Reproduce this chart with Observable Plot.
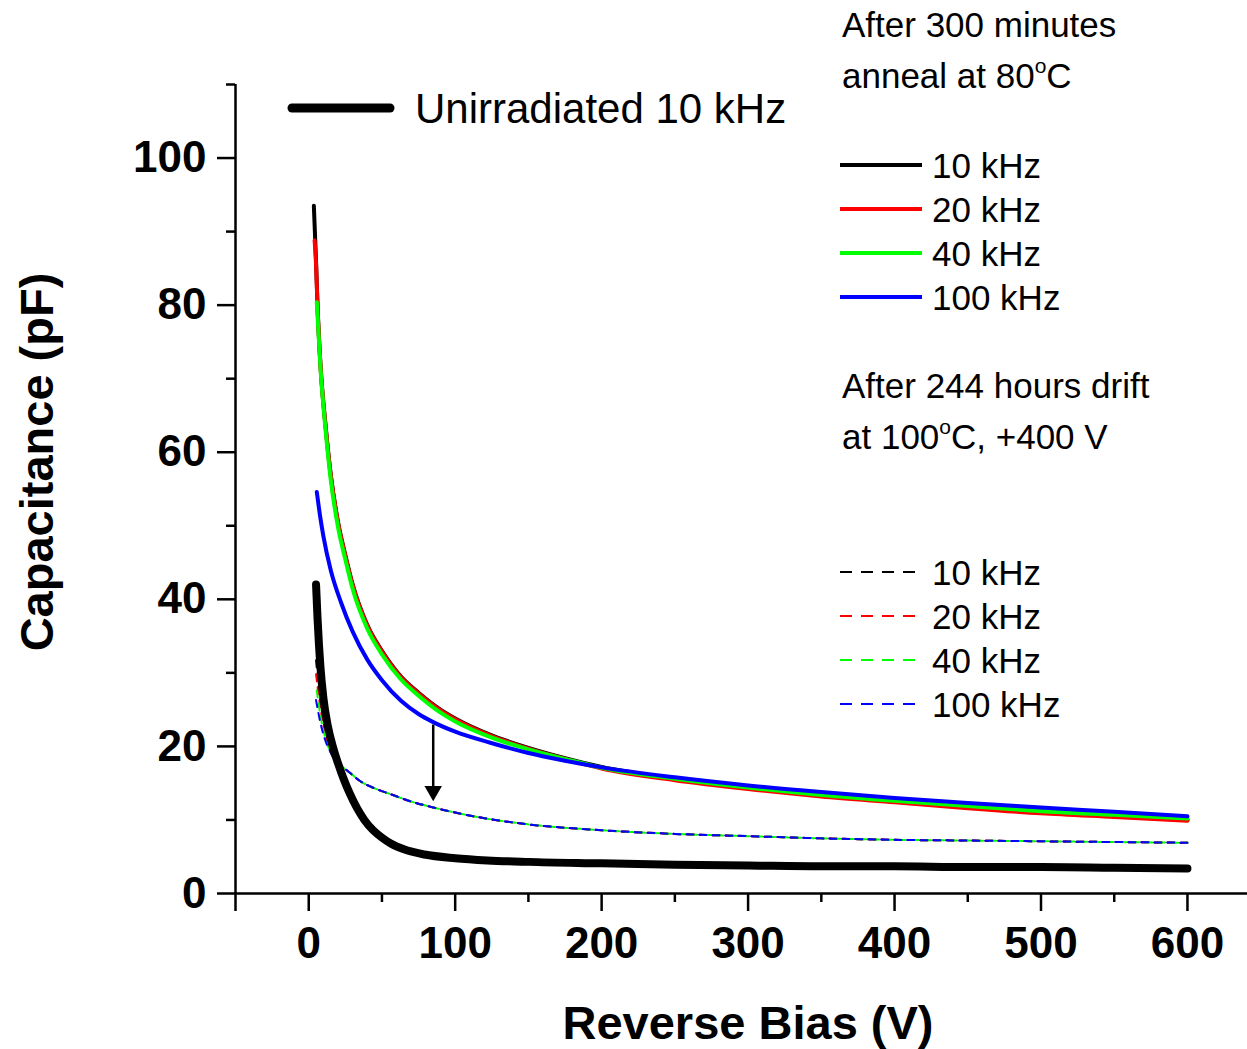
<!DOCTYPE html>
<html><head><meta charset="utf-8">
<script src="https://cdn.jsdelivr.net/npm/d3@7"></script>
<script src="https://cdn.jsdelivr.net/npm/@observablehq/plot@0.6"></script>
<style>body{margin:0;background:#fff}#chart{width:1247px;height:1049px}</style>
</head><body><div id="chart"></div>
<script>
// ---------- data ----------
const freqLabels = ["10 kHz", "20 kHz", "40 kHz", "100 kHz"];
const freqColors = ["#000000", "#ff0000", "#00ff00", "#0000ff"];

// Unirradiated, 10 kHz
const unirrV = [5, 6, 7, 8, 10, 13, 17, 20, 24, 28, 33, 38, 44, 50, 56, 65, 79, 100, 122, 150, 200, 250, 300, 350, 400, 450, 500, 550, 600];
const unirrC = [42, 37.5, 33.8, 30.8, 26.6, 22.8, 19.6, 17.7, 15.5, 13.6, 11.6, 10.0, 8.6, 7.6, 6.8, 6.0, 5.3, 4.8, 4.5, 4.3, 4.1, 3.9, 3.8, 3.7, 3.7, 3.6, 3.6, 3.5, 3.4];

// After 300 minutes anneal at 80 C (solid)
const anneal10V = [3.5, 5, 6, 8, 11.6, 15, 20, 25, 30, 40, 50, 63, 75, 90, 100, 125, 150, 175, 200, 250, 300, 350, 400, 450, 500, 550, 600];
const anneal10C = [93.5, 86, 80, 72, 63.4, 57, 50.5, 46, 42, 36.5, 33, 29.5, 27.3, 25, 23.8, 21.5, 19.8, 18.4, 17.2, 15.6, 14.4, 13.4, 12.6, 11.9, 11.2, 10.6, 10.0];
const anneal20V = [4, 5, 6, 8, 11.6, 15, 20, 25, 30, 40, 50, 63, 75, 90, 100, 125, 150, 175, 200, 250, 300, 350, 400, 450, 500, 550, 600];
const anneal20C = [88.8, 85.5, 79.8, 71.8, 63.3, 56.9, 50.4, 45.9, 41.9, 36.4, 32.9, 29.4, 27.2, 24.9, 23.7, 21.4, 19.7, 18.3, 17.0, 15.4, 14.2, 13.2, 12.4, 11.6, 10.9, 10.4, 9.9];
const anneal40V = [5.5, 8, 11.6, 15, 20, 25, 30, 40, 50, 63, 75, 90, 100, 125, 150, 175, 200, 250, 300, 350, 400, 450, 500, 550, 600];
const anneal40C = [80.4, 71.5, 62.8, 56.3, 49.8, 45.4, 41.4, 36.0, 32.5, 29.1, 26.9, 24.6, 23.4, 21.2, 19.6, 18.3, 17.1, 15.6, 14.4, 13.4, 12.6, 11.9, 11.2, 10.7, 10.2];
const anneal100V = [5.5, 8, 10, 15, 22, 30, 40, 50, 63, 75, 85, 100, 124, 150, 175, 200, 250, 300, 350, 400, 450, 500, 550, 600];
const anneal100C = [54.6, 51, 48.6, 44, 39.6, 35.6, 31.8, 29.0, 26.2, 24.4, 23.3, 22.0, 20.5, 19.1, 18.05, 17.15, 15.8, 14.7, 13.8, 13.0, 12.3, 11.7, 11.1, 10.5];

// After 244 hours drift at 100 C, +400 V (dashed)
const driftTailV = [15, 20, 27, 35, 45, 56, 70, 85, 100, 124, 150, 200, 250, 300, 350, 400, 450, 500, 550, 600];
const driftTailC = [19.2, 17.8, 16.6, 15.3, 14.3, 13.5, 12.5, 11.7, 11.0, 10.1, 9.4, 8.6, 8.1, 7.8, 7.5, 7.3, 7.2, 7.1, 7.0, 6.9];
const drift10V = [5, 8, 11, ...driftTailV];
const drift10C = [31.7, 26.0, 22.3, ...driftTailC];
const drift20V = [5, 8, 11, ...driftTailV];
const drift20C = [29.8, 25.2, 21.8, ...driftTailC];
const drift40V = [5.5, 8, 11, ...driftTailV];
const drift40C = [27.6, 24.2, 21.4, ...driftTailC];
const drift100V = [5, 8, 11, ...driftTailV];
const drift100C = [26.3, 23.2, 21.0, ...driftTailC];

// arrow annotation (V, from C, to C)
const arrowV = 85, arrowFromC = 22.9, arrowToC = 12.7;

// ticks
const xMajor = [-50, 0, 100, 200, 300, 400, 500, 600];
const xMinor = [50, 150, 250, 350, 450, 550];
const yMajor = [0, 20, 40, 60, 80, 100];
const yMinor = [10, 30, 50, 70, 90, 110];

// ---------- build ----------
const pts = (V, C) => V.map((v, i) => ({v, c: C[i]}));
const annealSets = [[anneal10V, anneal10C], [anneal20V, anneal20C], [anneal40V, anneal40C], [anneal100V, anneal100C]];
const driftSets = [[drift10V, drift10C], [drift20V, drift20C], [drift40V, drift40C], [drift100V, drift100C]];
const FONT = "'Liberation Sans', Arial, Helvetica, sans-serif";

const marks = [
  Plot.axisX(xMajor, {tickSize: 18, strokeWidth: 2.5, fontSize: 44, fontWeight: "bold", tickPadding: 15, label: null, tickFormat: d => d < 0 ? "" : String(d)}),
  Plot.axisX(xMinor, {tickSize: 9, strokeWidth: 2.5, label: null, tickFormat: () => ""}),
  Plot.axisY(yMajor, {tickSize: 18, strokeWidth: 2.5, fontSize: 44, fontWeight: "bold", tickPadding: 11, label: null, tickFormat: d => String(d)}),
  Plot.axisY(yMinor, {tickSize: 9, strokeWidth: 2.5, label: null, tickFormat: () => ""}),
  Plot.ruleY([0], {strokeWidth: 2.5}),
  Plot.ruleX([-50], {strokeWidth: 2.5}),
];
driftSets.forEach(([V, C], i) => marks.push(
  Plot.line(pts(V, C), {x: "v", y: "c", stroke: freqColors[i], strokeWidth: 2, strokeDasharray: "7,6", curve: "monotone-x"})
));
marks.push(Plot.line(pts(unirrV, unirrC), {x: "v", y: "c", stroke: "black", strokeWidth: 8, strokeLinecap: "round", strokeLinejoin: "round", curve: "monotone-x"}));
annealSets.forEach(([V, C], i) => marks.push(
  Plot.line(pts(V, C), {x: "v", y: "c", stroke: freqColors[i], strokeWidth: 4, curve: "monotone-x"})
));
marks.push(
  Plot.ruleX([arrowV], {y1: arrowFromC, y2: arrowToC + 1, strokeWidth: 2.5}),
  Plot.dot([arrowV], {x: d => d, y: () => arrowToC, dy: -9, symbol: "triangle", r: 6.5, rotate: 180, fill: "black", stroke: "none"})
);

const plot = Plot.plot({
  width: 1247, height: 1049,
  marginLeft: 235, marginRight: 0, marginTop: 84, marginBottom: 156,
  x: {domain: [-50, 641]},
  y: {domain: [0, 110]},
  style: {fontFamily: FONT, color: "black", background: "white", overflow: "visible"},
  marks
});
document.getElementById("chart").appendChild(plot);

// ---------- legends & titles ----------
const svg = d3.select(plot);
const g = svg.append("g").attr("font-family", FONT).attr("fill", "black").attr("text-anchor", "start");

g.append("line").attr("x1", 292).attr("x2", 390).attr("y1", 108).attr("y2", 108)
  .attr("stroke", "black").attr("stroke-width", 9).attr("stroke-linecap", "round");
g.append("text").attr("x", 415).attr("y", 123).attr("font-size", 42).text("Unirradiated " + freqLabels[0]);

function degText(x, y, before, after) {
  const t = g.append("text").attr("x", x).attr("y", y).attr("font-size", 35);
  t.append("tspan").text(before);
  t.append("tspan").attr("font-size", 21).attr("dy", -15).text("o");
  t.append("tspan").attr("dy", 15).text(after);
}
g.append("text").attr("x", 842).attr("y", 37).attr("font-size", 35).text("After 300 minutes");
degText(842, 88, "anneal at 80", "C");
g.append("text").attr("x", 842).attr("y", 398).attr("font-size", 35).text("After 244 hours drift");
degText(842, 449, "at 100", "C, +400 V");

const solidY = [165, 209, 253, 297];
const dashY = [572, 616, 660, 704];
freqLabels.forEach((lab, i) => {
  g.append("line").attr("x1", 840).attr("x2", 922).attr("y1", solidY[i]).attr("y2", solidY[i])
    .attr("stroke", freqColors[i]).attr("stroke-width", 4);
  g.append("text").attr("x", 932).attr("y", solidY[i] + 12.5).attr("font-size", 35).text(lab);
  g.append("line").attr("x1", 840).attr("x2", 916).attr("y1", dashY[i]).attr("y2", dashY[i])
    .attr("stroke", freqColors[i]).attr("stroke-width", 2).attr("stroke-dasharray", "12,9");
  g.append("text").attr("x", 932).attr("y", dashY[i] + 12.5).attr("font-size", 35).text(lab);
});

g.append("text").attr("x", 748).attr("y", 1039).attr("font-size", 47).attr("font-weight", "bold")
  .attr("text-anchor", "middle").text("Reverse Bias (V)");
g.append("text").attr("transform", "translate(53,462) rotate(-90)").attr("font-size", 47)
  .attr("font-weight", "bold").attr("text-anchor", "middle").text("Capacitance (pF)");
</script></body></html>
